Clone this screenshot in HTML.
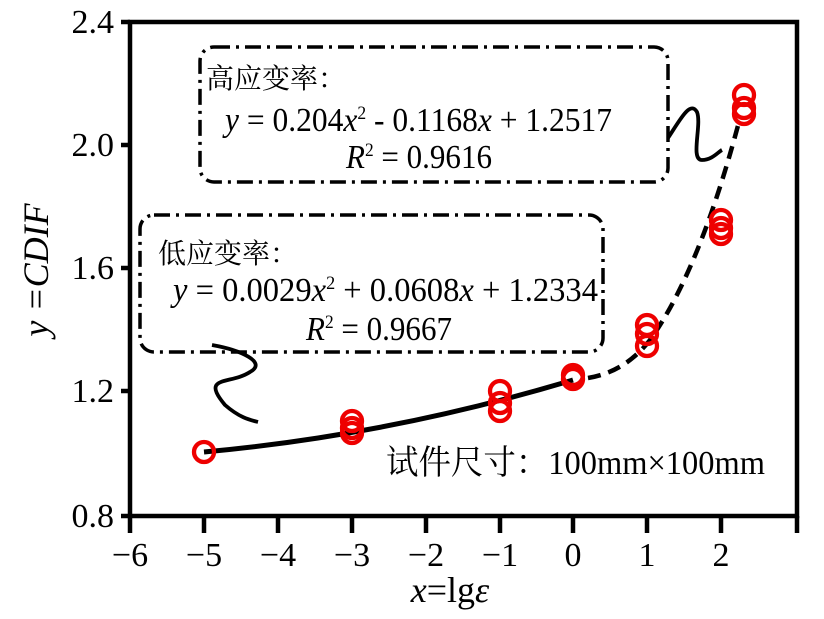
<!DOCTYPE html><html><head><meta charset="utf-8"><style>body{margin:0;background:#fff}svg{display:block}text{font-family:"Liberation Serif","Noto Serif CJK SC",serif;fill:#000}.t{font-size:34px}.c{font-size:28px}.s{font-size:19px}.l{font-size:36px}</style></head><body>
<svg width="824" height="619" viewBox="0 0 824 619" xmlns="http://www.w3.org/2000/svg">
<g style="stroke:#000;stroke-width:4.5;fill:none">
<rect x="130" y="22" width="667" height="494"/>
<path d="M130 516v17M204 516v17M278 516v17M352 516v17M426 516v17M500 516v17M573 516v17M647 516v17M721 516v17M797 516v17"/>
<path d="M121 22h9M121 145h9M121 268h9M121 391h9M121 516h9"/>
</g>
<g text-anchor="middle">
<text class="t" x="130" y="566">−6</text><text class="t" x="204" y="566">−5</text><text class="t" x="278" y="566">−4</text><text class="t" x="352" y="566">−3</text><text class="t" x="426" y="566">−2</text><text class="t" x="500" y="566">−1</text><text class="t" x="573" y="566">0</text><text class="t" x="647" y="566">1</text><text class="t" x="721" y="566">2</text>
</g>
<g text-anchor="end">
<text class="t" x="114" y="33">2.4</text><text class="t" x="114" y="156">2.0</text><text class="t" x="114" y="279">1.6</text><text class="t" x="114" y="402">1.2</text><text class="t" x="114" y="527">0.8</text>
</g>
<text class="l" x="450" y="602" text-anchor="middle"><tspan font-style="italic">x</tspan>=lg<tspan font-style="italic">ε</tspan></text>
<text class="l" transform="translate(48 270) rotate(-90)" text-anchor="middle" font-style="italic">y =CDIF</text>
<g style="stroke:#000;stroke-width:3.5;fill:none" stroke-dasharray="16 6 3 6">
<rect x="200" y="47" width="468" height="135" rx="14"/>
<rect x="140" y="215" width="463" height="137" rx="14"/>
</g>
<g style="stroke:#000;stroke-width:3.8;fill:none">
<path d="M668 138C680 120 690 100 697 112C702 125 690 160 702 160C712 160 718 152 722 150"/>
<path d="M212 345C240 350 268 362 250 372C230 385 200 375 225 405C240 418 250 420 258 422"/>
</g>
<path d="M204 452 Q390 435 573 380" style="stroke:#000;stroke-width:5;fill:none"/>
<path d="M588 378 Q625 372 650 340 Q700 270 740 118" style="stroke:#000;stroke-width:4.5;fill:none" stroke-dasharray="13 8"/>
<g style="stroke:#e00;stroke-width:4.3;fill:none">
<circle cx="204" cy="452" r="10"/>
<circle cx="352" cy="421" r="10"/><circle cx="352" cy="428" r="10"/><circle cx="352" cy="433" r="10"/>
<circle cx="500" cy="391" r="10"/><circle cx="500" cy="403" r="10"/><circle cx="500" cy="411" r="10"/>
<circle cx="573" cy="375" r="10"/><circle cx="573" cy="379" r="10"/>
<circle cx="647" cy="325" r="10"/><circle cx="647" cy="334" r="10"/><circle cx="647" cy="346" r="10"/>
<circle cx="721" cy="220" r="10"/><circle cx="721" cy="228" r="10"/><circle cx="721" cy="234" r="10"/>
<circle cx="744" cy="95" r="10"/><circle cx="744" cy="108" r="10"/><circle cx="744" cy="114" r="10"/>
</g>
<text class="c" x="206" y="88">高应变率：</text>
<text class="t" x="225" y="131" textLength="387" lengthAdjust="spacingAndGlyphs"><tspan font-style="italic">y</tspan> = 0.204<tspan font-style="italic">x</tspan><tspan class="s" dy="-12">2</tspan><tspan dy="12"> - 0.1168</tspan><tspan font-style="italic">x</tspan> + 1.2517</text>
<text class="t" x="346" y="168" textLength="146" lengthAdjust="spacingAndGlyphs"><tspan font-style="italic">R</tspan><tspan class="s" dy="-12">2</tspan><tspan dy="12"> = 0.9616</tspan></text>
<text class="c" x="158" y="263">低应变率：</text>
<text class="t" x="173" y="301" textLength="425" lengthAdjust="spacingAndGlyphs"><tspan font-style="italic">y</tspan> = 0.0029<tspan font-style="italic">x</tspan><tspan class="s" dy="-12">2</tspan><tspan dy="12"> + 0.0608</tspan><tspan font-style="italic">x</tspan> + 1.2334</text>
<text class="t" x="306" y="340" textLength="146" lengthAdjust="spacingAndGlyphs"><tspan font-style="italic">R</tspan><tspan class="s" dy="-12">2</tspan><tspan dy="12"> = 0.9667</tspan></text>
<text class="t" x="386" y="474" textLength="379" lengthAdjust="spacingAndGlyphs">试件尺寸：100mm×100mm</text>
</svg></body></html>
